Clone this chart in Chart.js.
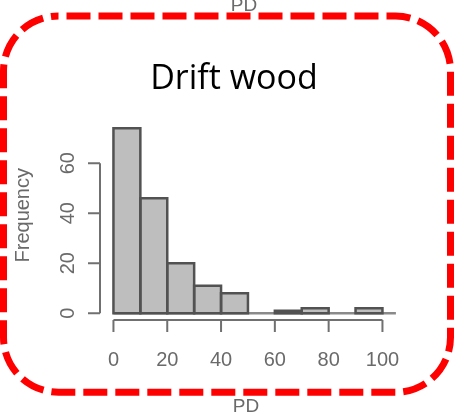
<!DOCTYPE html>
<html>
<head>
<meta charset="utf-8">
<script src="https://cdn.jsdelivr.net/npm/chart.js@4.4.1/dist/chart.umd.min.js"></script>
<style>
  html, body { margin: 0; padding: 0; background: #ffffff; }
  canvas { display: block; }
</style>
</head>
<body>
<canvas id="hist" width="454" height="414"></canvas>
<script>
// Histogram of PD for drift wood samples (bins of width 10)
const binStarts = [0, 10, 20, 30, 40, 50, 60, 70, 80, 90];
const binWidth = 10;
const counts = [74, 46, 20, 11, 8, 0, 1, 2, 0, 2];
const xTicks = [0, 20, 40, 60, 80, 100];
const yTicks = [0, 20, 40, 60];
const titleText = 'Drift wood';
const xLabel = 'PD';
const yLabel = 'Frequency';

const points = binStarts.map((s, i) => ({ x: s + binWidth / 2, y: counts[i] }));

const AXIS_COLOR = '#707070';
const TEXT_COLOR = '#6a6a6a';
const LABEL_FONT = '20px "Liberation Sans", Arial, sans-serif';

// Axes, bar outlines, labels, title and frame drawn on top of the bars
const histDecor = {
  id: 'histDecor',
  beforeDatasetsDraw(chart) {
    const ctx = chart.ctx;
    ctx.save();
    ctx.filter = 'blur(0.6px)';
  },
  afterDatasetsDraw(chart) {
    const ctx = chart.ctx;
    const xs = chart.scales.x;
    const ys = chart.scales.y;
    const area = chart.chartArea;
    const y0 = ys.getPixelForValue(0);

    // baseline under the bins
    ctx.strokeStyle = '#8a8a8a';
    ctx.lineWidth = 2.5;
    ctx.beginPath();
    ctx.moveTo(xs.getPixelForValue(0), y0);
    ctx.lineTo(xs.getPixelForValue(xs.max), y0);
    ctx.stroke();

    // bar outlines, centred on the bin edges
    ctx.strokeStyle = '#525252';
    ctx.lineWidth = 2.5;
    chart.getDatasetMeta(0).data.forEach(el => {
      const p = el.getProps(['x', 'y', 'base', 'width'], true);
      if (Math.abs(p.base - p.y) < 0.5) return;
      ctx.strokeRect(p.x - p.width / 2, p.y, p.width, p.base - p.y);
    });

    ctx.strokeStyle = AXIS_COLOR;
    ctx.lineWidth = 2;
    ctx.fillStyle = TEXT_COLOR;
    ctx.font = LABEL_FONT;

    // y axis
    const ax = area.left;
    ctx.beginPath();
    ctx.moveTo(ax, ys.getPixelForValue(yTicks[0]));
    ctx.lineTo(ax, ys.getPixelForValue(yTicks[yTicks.length - 1]));
    yTicks.forEach(v => {
      const py = ys.getPixelForValue(v);
      ctx.moveTo(ax - 12, py);
      ctx.lineTo(ax, py);
    });
    ctx.stroke();
    ctx.textAlign = 'center';
    ctx.textBaseline = 'middle';
    yTicks.forEach(v => {
      const py = ys.getPixelForValue(v);
      ctx.save();
      ctx.translate(ax - 32, py);
      ctx.rotate(-Math.PI / 2);
      ctx.fillText(String(v), 0, 0);
      ctx.restore();
    });

    // x axis
    const ay = area.bottom;
    ctx.beginPath();
    ctx.moveTo(xs.getPixelForValue(xTicks[0]), ay);
    ctx.lineTo(xs.getPixelForValue(xTicks[xTicks.length - 1]), ay);
    xTicks.forEach(v => {
      const px = xs.getPixelForValue(v);
      ctx.moveTo(px, ay);
      ctx.lineTo(px, ay + 12);
    });
    ctx.stroke();
    xTicks.forEach(v => {
      ctx.fillText(String(v), xs.getPixelForValue(v), ay + 40);
    });

    // axis titles
    ctx.save();
    ctx.translate(23, (ys.getPixelForValue(yTicks[0]) + area.top) / 2 + 2);
    ctx.rotate(-Math.PI / 2);
    ctx.fillText(yLabel, 0, 0);
    ctx.restore();

    ctx.textBaseline = 'alphabetic';
    ctx.font = '19px "Liberation Sans", Arial, sans-serif';
    ctx.fillText(xLabel, 246, 412);
    ctx.fillText(xLabel, 244, 10.5);

    ctx.restore();
  },
  afterDraw(chart) {
    const ctx = chart.ctx;
    ctx.save();
    // title
    ctx.fillStyle = '#000000';
    ctx.font = '34px "Open Sans", "Noto Sans", sans-serif';
    ctx.textAlign = 'center';
    ctx.textBaseline = 'alphabetic';
    ctx.fillText(titleText, 234, 89.3);

    // dashed rounded frame
    ctx.strokeStyle = '#ff0000';
    ctx.lineWidth = 7;
    ctx.lineCap = 'butt';
    ctx.setLineDash([24, 8]);
    ctx.lineDashOffset = 24;
    ctx.beginPath();
    ctx.roundRect(3.5, 16, 447, 376.3, 55);
    ctx.stroke();
    ctx.restore();
  }
};

new Chart(document.getElementById('hist'), {
  type: 'bar',
  data: {
    datasets: [{
      data: points,
      backgroundColor: '#bebebe',
      borderWidth: 0,
      barPercentage: 1,
      categoryPercentage: 1
    }]
  },
  options: {
    responsive: false,
    animation: false,
    devicePixelRatio: 1,
    layout: { padding: { left: 100, right: 58.1, top: 113.25, bottom: 94 } },
    plugins: { legend: { display: false }, tooltip: { enabled: false }, title: { display: false } },
    scales: {
      x: { type: 'linear', display: false, offset: false, min: -5, max: 105, grid: { offset: false } },
      y: { type: 'linear', display: false, min: -2.7, max: 80 }
    }
  },
  plugins: [histDecor]
});
</script>
</body>
</html>
